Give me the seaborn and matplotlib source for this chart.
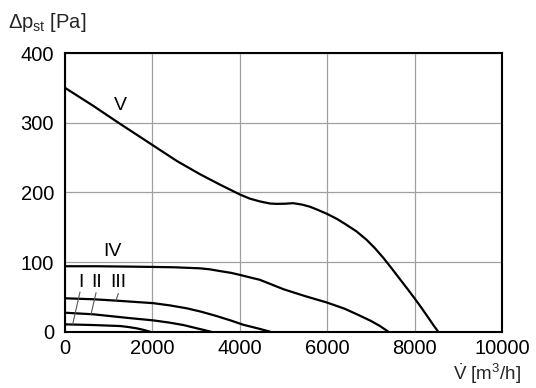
import numpy as np
import pandas as pd
import matplotlib
matplotlib.use("Agg")
import matplotlib.pyplot as plt
import seaborn as sns

# Fan curves: volume flow (m3/h) vs static pressure (Pa)
flow_I = [0, 650, 1260, 1450, 1640, 1800, 1950]
dp_I = [10.6, 9.6, 8.2, 6.8, 4.9, 2.6, 0]

flow_II = [0, 650, 1410, 2020, 2400, 2710, 3000, 3340]
dp_II = [27.3, 25, 20, 16.3, 13, 9.6, 5.2, 0]

flow_III = [0, 650, 1180, 2020, 2400, 2780, 3100, 3470, 3800, 4080, 4400, 4700]
dp_III = [48, 46.6, 44.6, 41, 37.8, 33.7, 29, 22.5, 16, 10, 5, 0]

flow_IV = [0, 700, 1410, 2020, 2500, 3090, 3320, 3550, 3800, 4000, 4230,
           4460, 5000, 5500, 5990, 6400, 6750, 7000, 7200, 7400]
dp_IV = [94, 94, 93.5, 93, 92.5, 91, 89.5, 87, 84.5, 81.6, 78,
         74.5, 61, 51, 42, 33, 23, 15.5, 8.5, 0]

flow_V = [0, 650, 1220, 2000, 2560, 3090, 3550, 4000, 4230, 4460, 4690,
          4840, 5030, 5220, 5420, 5600, 5800, 6000, 6220, 6440, 6670,
          6900, 7090, 7290, 7480, 7670, 7860, 8010, 8160, 8310, 8430, 8540]
dp_V = [350, 324, 300, 268, 245, 226, 211, 197, 191, 187, 184,
        183.5, 183.7, 184.5, 182.5, 179.5, 174.5, 169, 162, 153.5, 144,
        132, 120, 105.6, 90.5, 75, 59.5, 47, 34, 20.5, 9.5, 0]

curve_names = ["I", "II", "III", "IV", "V"]
label_x = [366, 725, 1220, 1090, 1275]
label_y = [70, 70, 70, 115, 325]

# leader lines from the small labels down to their curves
leader_x = [[343, 176], [710, 595], [1220, 1167]]
leader_y = [[57, 11], [56, 25], [55, 45]]

xticks = [0, 2000, 4000, 6000, 8000, 10000]
yticks = [0, 100, 200, 300, 400]

sns.set_theme(style="white")
plt.rcParams["font.family"] = ["Liberation Sans", "DejaVu Sans"]
plt.rcParams["mathtext.fontset"] = "custom"
plt.rcParams["mathtext.rm"] = "Liberation Sans"
plt.rcParams["mathtext.it"] = "Liberation Sans"

curves = pd.concat([
    pd.DataFrame({"flow": flow_I, "dp": dp_I, "curve": "I"}),
    pd.DataFrame({"flow": flow_II, "dp": dp_II, "curve": "II"}),
    pd.DataFrame({"flow": flow_III, "dp": dp_III, "curve": "III"}),
    pd.DataFrame({"flow": flow_IV, "dp": dp_IV, "curve": "IV"}),
    pd.DataFrame({"flow": flow_V, "dp": dp_V, "curve": "V"}),
])

fig = plt.figure(figsize=(5.36, 3.88), dpi=100)
ax = fig.add_axes([0.1213, 0.145, 0.8153, 0.7184])

sns.lineplot(data=curves, x="flow", y="dp", units="curve", estimator=None,
             sort=False, color="black", linewidth=1.6, ax=ax, legend=False)

for lx, ly in zip(leader_x, leader_y):
    ax.plot(lx, ly, color="#555555", linewidth=0.8)

for name, tx, ty in zip(curve_names, label_x, label_y):
    ax.text(tx, ty, name, fontsize=14, ha="center", va="center", color="black")

ax.set_xlim(0, 10000)
ax.set_ylim(0, 400)
ax.set_xticks(xticks)
ax.set_yticks(yticks)
ax.tick_params(axis="both", labelsize=14.5, length=0, colors="black")
ax.tick_params(axis="x", pad=5)
ax.tick_params(axis="y", pad=8)
ax.grid(True, color="#a0a0a0", linewidth=0.9)
ax.set_axisbelow(True)
for sp in ax.spines.values():
    sp.set_color("black")
    sp.set_linewidth(1.5)
ax.set_xlabel("")
ax.set_ylabel("")

fig.text(8 / 536, 1 - 22 / 388, r"Δp$_\mathrm{st}$ [Pa]", fontsize=14.5,
         ha="left", va="center")
fig.text(521 / 536, 2 / 388, r"$\dot{\mathrm{V}}$ [m$^3$/h]", fontsize=13.5,
         ha="right", va="bottom")

fig.savefig("out.png", dpi=100)
